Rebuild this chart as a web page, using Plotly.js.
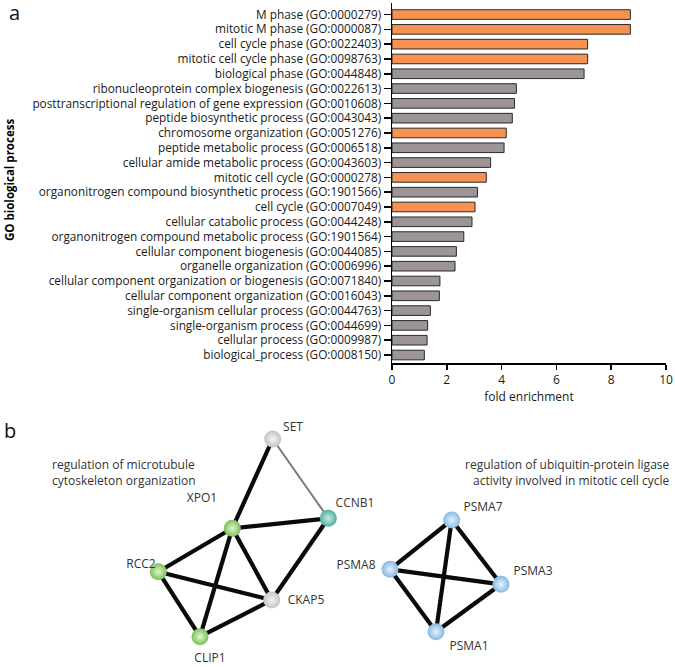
<!DOCTYPE html>
<html><head><meta charset="utf-8">
<script src="https://cdn.plot.ly/plotly-3.0.1.min.js"></script>
<style>html,body{margin:0;padding:0;background:#fff}</style>
</head><body><div id="chart" style="width:675px;height:667px"></div>
<script>
// ---- panel a data ----
const terms = [
  "M phase (GO:0000279)",
  "mitotic M phase (GO:0000087)",
  "cell cycle phase (GO:0022403)",
  "mitotic cell cycle phase (GO:0098763)",
  "biological phase (GO:0044848)",
  "ribonucleoprotein complex biogenesis (GO:0022613)",
  "posttranscriptional regulation of gene expression (GO:0010608)",
  "peptide biosynthetic process (GO:0043043)",
  "chromosome organization (GO:0051276)",
  "peptide metabolic process (GO:0006518)",
  "cellular amide metabolic process (GO:0043603)",
  "mitotic cell cycle (GO:0000278)",
  "organonitrogen compound biosynthetic process (GO:1901566)",
  "cell cycle (GO:0007049)",
  "cellular catabolic process (GO:0044248)",
  "organonitrogen compound metabolic process (GO:1901564)",
  "cellular component biogenesis (GO:0044085)",
  "organelle organization (GO:0006996)",
  "cellular component organization or biogenesis (GO:0071840)",
  "cellular component organization (GO:0016043)",
  "single-organism cellular process (GO:0044763)",
  "single-organism process (GO:0044699)",
  "cellular process (GO:0009987)",
  "biological_process (GO:0008150)"
];
const foldEnrichment = [8.70, 8.70, 7.14, 7.14, 7.01, 4.54, 4.47, 4.39, 4.17, 4.09, 3.60, 3.44, 3.12, 3.03, 2.92, 2.62, 2.35, 2.30, 1.75, 1.73, 1.40, 1.30, 1.28, 1.18];
const cellCycleTerm = [true, true, true, true, false, false, false, false, true, false, false, true, false, true, false, false, false, false, false, false, false, false, false, false];
const xTicks = [0, 2, 4, 6, 8, 10];

// ---- panel b data (network) ----
const nodeNames = ["SET", "CCNB1", "XPO1", "RCC2", "CKAP5", "CLIP1", "PSMA7", "PSMA8", "PSMA3", "PSMA1"];
const nodeX = [272.7, 328.3, 232.3, 158.3, 271.7, 200.0, 451.7, 390.0, 501.0, 436.0];
const nodeY = [439.0, 518.3, 528.3, 571.7, 600.0, 636.7, 520.0, 569.3, 584.3, 631.7];
const nodeGroup = ["grey", "teal", "green", "green", "grey", "green", "blue", "blue", "blue", "blue"];
const labelX = [293, 355, 202, 141, 306, 210, 483, 356, 533, 469];
const labelY = [428, 504, 499, 565, 601, 659, 508, 566, 572, 647];
const strongEdges = [["SET","XPO1"],["XPO1","CCNB1"],["XPO1","RCC2"],["XPO1","CLIP1"],["XPO1","CKAP5"],["CCNB1","CKAP5"],["RCC2","CKAP5"],["RCC2","CLIP1"],["CLIP1","CKAP5"],
  ["PSMA7","PSMA8"],["PSMA7","PSMA1"],["PSMA7","PSMA3"],["PSMA8","PSMA3"],["PSMA8","PSMA1"],["PSMA1","PSMA3"]];
const weakEdges = [["SET","CCNB1"]];
const clusterTitles = ["regulation of microtubule<br>cytoskeleton organization", "regulation of ubiquitin-protein ligase<br>activity involved in mitotic cell cycle"];

const W = 675, H = 667;
const FONT = "Open Sans, sans-serif";
const px = v => v / W, py = v => 1 - v / H;

const groupColor = {grey: "#c4c4c4", teal: "#4fb09c", green: "#7cc05a", blue: "#86b9e3"};
const groupCenter = {grey: "#f4f4f4", teal: "#c6ece2", green: "#e0f5cf", blue: "#e6f2fc"};

function edgeTrace(list, color, width) {
  const xs = [], ys = [];
  list.forEach(([a, b]) => {
    const i = nodeNames.indexOf(a), j = nodeNames.indexOf(b);
    xs.push(nodeX[i], nodeX[j], null);
    ys.push(nodeY[i], nodeY[j], null);
  });
  return {type: "scatter", mode: "lines", x: xs, y: ys, xaxis: "x2", yaxis: "y2",
    line: {color: color, width: width}, hoverinfo: "skip", showlegend: false};
}

const traces = [
  {type: "bar", orientation: "h", x: foldEnrichment, y: terms,
   width: 0.65,
   marker: {color: cellCycleTerm.map(c => c ? "#f79250" : "#9d9496"), line: {color: "#2a2a2a", width: 1}},
   showlegend: false},
  edgeTrace(weakEdges, "#7a7a7a", 2),
  edgeTrace(strongEdges, "#0a0a0a", 4.2),
  {type: "scatter", mode: "markers", x: nodeX, y: nodeY, xaxis: "x2", yaxis: "y2",
   marker: {size: 17, color: nodeGroup.map(g => groupColor[g]),
            gradient: {type: "radial", color: nodeGroup.map(g => groupCenter[g])},
            line: {width: 0}},
   hoverinfo: "skip", showlegend: false},
  {type: "scatter", mode: "text", x: labelX, y: labelY, text: nodeNames, xaxis: "x2", yaxis: "y2",
   textfont: {family: FONT, size: 12, color: "#333"}, hoverinfo: "skip", showlegend: false}
];

function ann(text, x, y, opts) {
  return Object.assign({text: text, x: px(x), y: py(y), xref: "paper", yref: "paper",
    xanchor: "center", yanchor: "middle", showarrow: false}, opts);
}

const layout = {
  width: W, height: H,
  margin: {l: 0, r: 0, t: 0, b: 0},
  paper_bgcolor: "#fff", plot_bgcolor: "rgba(0,0,0,0)",
  font: {family: FONT, color: "#1a1a1a"},
  xaxis: {domain: [px(392), px(666)], anchor: "y", range: [0, 10], tickvals: xTicks,
    ticks: "outside", ticklen: 5, tickwidth: 1.5, tickcolor: "#000",
    showline: true, linewidth: 1.5, linecolor: "#000", showgrid: false, zeroline: false,
    tickfont: {family: FONT, size: 12, color: "#1a1a1a"},
    title: {text: "fold enrichment", font: {family: FONT, size: 12, color: "#1a1a1a"}, standoff: 5}},
  yaxis: {domain: [py(363), py(3)], anchor: "x", type: "category", range: [terms.length - 0.46, -0.78],
    ticks: "outside", ticklen: 7, tickwidth: 1.5, tickcolor: "#000",
    showline: true, linewidth: 1.5, linecolor: "#000", showgrid: false, zeroline: false,
    tickfont: {family: FONT, size: 11.8, color: "#1a1a1a"}},
  xaxis2: {domain: [0, 1], anchor: "y2", range: [0, W], visible: false, fixedrange: true},
  yaxis2: {domain: [0, 1], anchor: "x2", range: [H, 0], visible: false, fixedrange: true},
  annotations: [
    ann("GO biological process", 10, 180, {textangle: -90,
      font: {family: FONT, size: 11.5, color: "#000", weight: "bold"}}),
    ann("a", 14, 12, {font: {family: FONT, size: 20, color: "#111"}}),
    ann("b", 10, 430, {font: {family: FONT, size: 20, color: "#111"}}),
    ann(clusterTitles[0], 50, 472, {xanchor: "left", align: "left",
      font: {family: FONT, size: 12, color: "#333"}}),
    ann(clusterTitles[1], 672, 472, {xanchor: "right", align: "right",
      font: {family: FONT, size: 12, color: "#333"}})
  ]
};

Plotly.newPlot("chart", traces, layout, {staticPlot: true, displayModeBar: false});
</script></body></html>
